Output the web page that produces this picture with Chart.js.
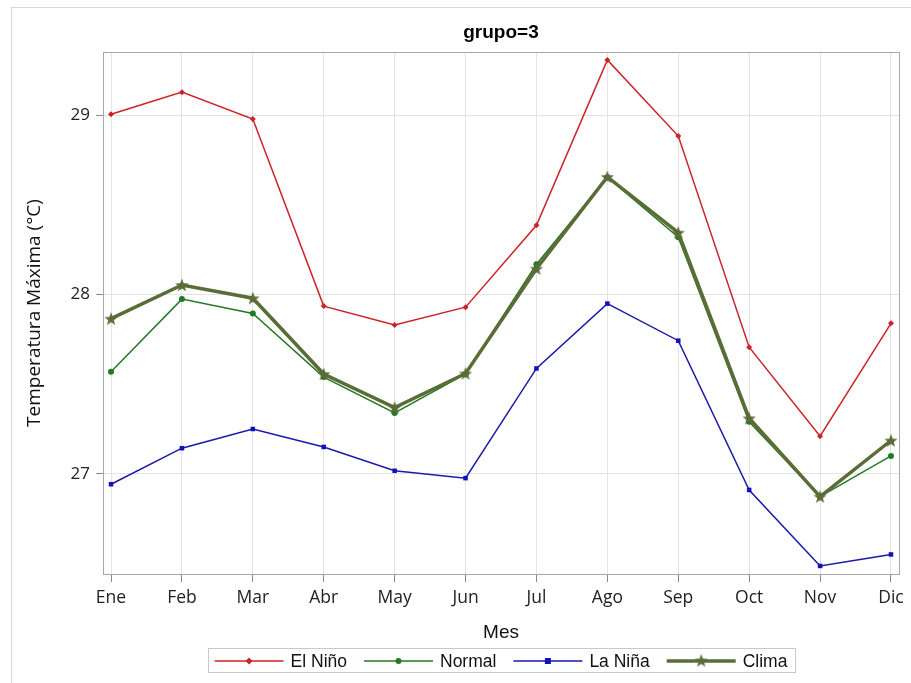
<!DOCTYPE html>
<html>
<head>
<meta charset="utf-8">
<title>grupo=3</title>
<script src="https://cdn.jsdelivr.net/npm/chart.js@4.4.0/dist/chart.umd.min.js"></script>
<style>
  body { margin: 0; background: #fff; }
  #frame { position: absolute; left: 11px; top: 7px; width: 900px; height: 676px;
           border-left: 1px solid #d6d6d6; border-top: 1px solid #d6d6d6; box-sizing: border-box; }
  #grafico { position: absolute; left: 0; top: 0; }
</style>
</head>
<body>
<div id="frame"></div>
<canvas id="grafico" width="911" height="683"></canvas>
<script>
// temperatura maxima media por mes, grupo 3
var meses  = ['Ene','Feb','Mar','Abr','May','Jun','Jul','Ago','Sep','Oct','Nov','Dic'];
var elNino = [29.007, 29.13, 28.98, 27.936, 27.83, 27.93, 28.387, 29.31, 28.885, 27.707, 27.21, 27.84];
var normal = [27.57, 27.975, 27.895, 27.54, 27.34, 27.557, 28.17, 28.655, 28.32, 27.29, 26.873, 27.10];
var laNina = [26.942, 27.143, 27.25, 27.15, 27.017, 26.976, 27.588, 27.95, 27.743, 26.91, 26.486, 26.55];
var clima  = [27.866, 28.054, 27.98, 27.557, 27.37, 27.56, 28.145, 28.657, 28.346, 27.31, 26.873, 27.186];
var yTicks = [27, 28, 29];

var serif = '"Liberation Sans", Arial, sans-serif';
var sans = '"Open Sans", "DejaVu Sans", sans-serif';

// estrella rellena para la serie Clima
function estrella(color) {
  var c = document.createElement('canvas');
  c.width = 16; c.height = 16;
  var g = c.getContext('2d');
  g.beginPath();
  for (var i = 0; i < 10; i++) {
    var r = i % 2 === 0 ? 7 : 2.9;
    var a = -Math.PI / 2 + i * Math.PI / 5;
    var px = 8 + r * Math.cos(a), py = 8.6 + r * Math.sin(a);
    if (i === 0) g.moveTo(px, py); else g.lineTo(px, py);
  }
  g.closePath();
  g.fillStyle = color;
  g.fill();
  return c;
}

function puntos(arr) {
  return arr.map(function (v, i) { return { x: i, y: v }; });
}

var colClima = '#5a6d36';
var star = estrella(colClima);

var series = [
  { label: 'El Niño', data: puntos(elNino), borderColor: '#cc2229', backgroundColor: '#cc2229',
    borderWidth: 1.5, pointStyle: 'rectRot', pointRadius: 3, order: 1 },
  { label: 'Normal', data: puntos(normal), borderColor: '#237a23', backgroundColor: '#237a23',
    borderWidth: 1.5, pointStyle: 'circle', pointRadius: 3, order: 1 },
  { label: 'La Niña', data: puntos(laNina), borderColor: '#1a1aa8', backgroundColor: '#1010c0',
    borderWidth: 1.5, pointStyle: 'rect', pointRadius: 3.2, order: 1 },
  { label: 'Clima', data: puntos(clima), borderColor: colClima, backgroundColor: colClima,
    borderWidth: 3.5, pointStyle: star, pointRadius: 7, order: 0 }
];
series.forEach(function (s) { s.fill = false; s.tension = 0; s.pointBorderWidth = 0; });

// marco del area, titulo y leyenda
var marco = {
  id: 'marco',
  afterDraw: function (chart) {
    var ctx = chart.ctx, a = chart.chartArea;
    var cx = (a.left + a.right) / 2;
    ctx.save();
    ctx.strokeStyle = '#a8a8a8';
    ctx.lineWidth = 1;
    ctx.strokeRect(a.left + 0.5, a.top + 0.5, a.right - a.left, a.bottom - a.top);

    ctx.fillStyle = '#000';
    ctx.font = 'bold 19px ' + serif;
    ctx.textAlign = 'center';
    ctx.textBaseline = 'middle';
    ctx.fillText('grupo=3', cx, 33);

    // leyenda
    ctx.font = '17.5px ' + serif;
    var sample = 69, gapTxt = 7, gapItem = 17, pad = 7;
    var ds = chart.data.datasets;
    var total = 0;
    ds.forEach(function (d, i) {
      total += sample + gapTxt + ctx.measureText(d.label).width + (i < ds.length - 1 ? gapItem : 0);
    });
    var x = cx - total / 2, y = 661;
    ctx.strokeStyle = '#c8c8c8';
    ctx.strokeRect(Math.round(x - pad) + 0.5, 648.5, Math.round(total + 2 * pad), 24);
    ds.forEach(function (d) {
      ctx.strokeStyle = d.borderColor;
      ctx.lineWidth = d.borderWidth;
      ctx.beginPath();
      ctx.moveTo(x, y); ctx.lineTo(x + sample, y);
      ctx.stroke();
      var mx = x + sample / 2;
      ctx.fillStyle = d.backgroundColor;
      if (d.pointStyle === 'rect') {
        ctx.fillRect(mx - 3, y - 3, 6, 6);
      } else if (d.pointStyle === 'rectRot') {
        ctx.beginPath();
        ctx.moveTo(mx, y - 3.5); ctx.lineTo(mx + 3.5, y); ctx.lineTo(mx, y + 3.5); ctx.lineTo(mx - 3.5, y);
        ctx.fill();
      } else if (d.pointStyle === 'circle') {
        ctx.beginPath(); ctx.arc(mx, y, 3, 0, Math.PI * 2); ctx.fill();
      } else {
        ctx.drawImage(d.pointStyle, mx - 8, y - 8.6);
      }
      x += sample + gapTxt;
      ctx.fillStyle = '#111';
      ctx.textAlign = 'left';
      ctx.fillText(d.label, x, y + 1);
      x += ctx.measureText(d.label).width + gapItem;
    });
    ctx.restore();
  }
};

new Chart(document.getElementById('grafico'), {
  type: 'line',
  data: { datasets: series },
  plugins: [marco],
  options: {
    responsive: false,
    animation: false,
    layout: { padding: { left: 19, top: 52, right: 12, bottom: 39 } },
    plugins: { legend: { display: false }, title: { display: false }, tooltip: { enabled: false } },
    scales: {
      x: {
        type: 'linear',
        min: -0.113,
        max: 11.113,
        afterBuildTicks: function (s) { s.ticks = meses.map(function (m, i) { return { value: i }; }); },
        afterFit: function (s) { s.height = 70; },
        ticks: {
          autoSkip: false, maxRotation: 0, padding: 6, color: '#222',
          font: { family: sans, size: 17.5 },
          callback: function (v) { return meses[v]; }
        },
        grid: { color: '#e4e4e4', tickColor: '#8a8a8a', tickLength: 8 },
        border: { color: '#a8a8a8' },
        title: { display: true, text: 'Mes', color: '#111', font: { family: serif, size: 19 }, padding: { top: 4, bottom: 0 } }
      },
      y: {
        min: 26.441,
        max: 29.354,
        afterBuildTicks: function (s) { s.ticks = yTicks.map(function (v) { return { value: v }; }); },
        afterFit: function (s) { s.width = 84; },
        ticks: { padding: 6, color: '#222', font: { family: sans, size: 17 } },
        grid: { color: '#e4e4e4', tickColor: '#8a8a8a', tickLength: 7 },
        border: { color: '#a8a8a8' },
        title: { display: true, text: 'Temperatura Máxima (°C)', color: '#111', font: { family: sans, size: 19 }, padding: 4 }
      }
    }
  }
});
</script>
</body>
</html>
